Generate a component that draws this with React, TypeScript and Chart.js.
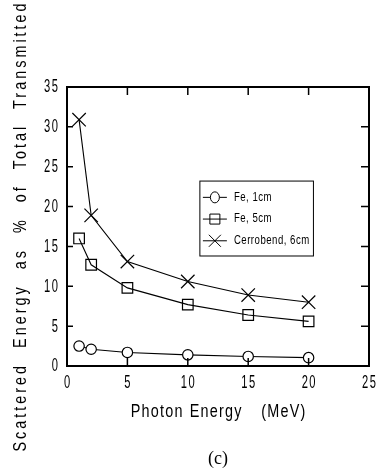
import React, { useEffect, useRef } from "react";
import { Chart, registerables } from "chart.js";

Chart.register(...registerables);

const energies = [1, 2, 5, 10, 15, 20];
const fe1cm = [2.5, 2.1, 1.7, 1.4, 1.2, 1.05];
const fe5cm = [16.0, 12.7, 9.8, 7.7, 6.4, 5.6];
const cerrobend6cm = [30.9, 18.9, 13.1, 10.6, 8.9, 8.0];
const seriesLabels = ["Fe, 1cm", "Fe, 5cm", "Cerrobend, 6cm"];
const xTickValues = [0, 5, 10, 15, 20, 25];
const yTickValues = [0, 5, 10, 15, 20, 25, 30, 35];
const xTitle = "Photon Energy   (MeV)";
const yTitle = "Scattered Energy as % of Total Transmitted";
const caption = "(c)";

const FONT = "'Liberation Sans', Arial, sans-serif";

function narrowText(
  ctx: any,
  text: string,
  x: number,
  y: number,
  opts: { size: number; sx: number; ls: number; ws?: number; align: string; rot?: number }
) {
  ctx.save();
  ctx.translate(x, y);
  if (opts.rot) ctx.rotate(opts.rot);
  ctx.scale(opts.sx, 1);
  ctx.font = `${opts.size}px ${FONT}`;
  ctx.letterSpacing = `${opts.ls / opts.sx}px`;
  ctx.wordSpacing = `${(opts.ws || 0) / opts.sx}px`;
  ctx.textAlign = opts.align;
  ctx.textBaseline = "middle";
  ctx.fillStyle = "#000";
  let dx = 0;
  if (opts.align === "right") dx = opts.ls / opts.sx;
  if (opts.align === "center") dx = opts.ls / opts.sx / 2;
  ctx.fillText(text, dx, 0);
  ctx.restore();
}

const framePlugin = {
  id: "frameTicks",
  afterDatasetsDraw(chart: any) {
    const { ctx, chartArea, scales } = chart;
    const { left, right, top, bottom } = chartArea;
    ctx.save();
    ctx.strokeStyle = "#000";
    ctx.lineWidth = 1.5;
    ctx.beginPath();
    for (const t of scales.x.ticks) {
      const v = t.value;
      const px = scales.x.getPixelForValue(v);
      if (v !== 0 && v !== 25) {
        ctx.moveTo(px, bottom);
        ctx.lineTo(px, bottom - 8);
        ctx.moveTo(px, top);
        ctx.lineTo(px, top + 8);
      }
    }
    for (const t of scales.y.ticks) {
      const v = t.value;
      const py = scales.y.getPixelForValue(v);
      if (v !== 0 && v !== 35) {
        ctx.moveTo(left, py);
        ctx.lineTo(left + 6, py);
        ctx.moveTo(right, py);
        ctx.lineTo(right - 8, py);
      }
    }
    ctx.stroke();
    ctx.lineWidth = 2;
    ctx.strokeRect(left, top, right - left, bottom - top);
    ctx.restore();
  },
  afterDraw(chart: any) {
    const { ctx, scales, chartArea } = chart;
    // tick labels
    for (const t of scales.x.ticks) {
      const px = scales.x.getPixelForValue(t.value);
      narrowText(ctx, String(t.value), px, chartArea.bottom + 17, { size: 18, sx: 0.62, ls: 1.5, align: "center" });
    }
    for (const t of scales.y.ticks) {
      const py = scales.y.getPixelForValue(t.value);
      narrowText(ctx, String(t.value), chartArea.left - 9, py + 0.5, { size: 18, sx: 0.62, ls: 1.5, align: "right" });
    }
    // axis titles
    const cx = (chartArea.left + chartArea.right) / 2;
    const cy = (chartArea.top + chartArea.bottom) / 2;
    narrowText(ctx, xTitle, cx, chartArea.bottom + 46, { size: 18, sx: 0.8, ls: 1.2, ws: 1, align: "center" });
    narrowText(ctx, yTitle, 21, cy + 1, { size: 18, sx: 0.8, ls: 3, ws: 8, align: "center", rot: -Math.PI / 2 });

    // legend
    const bx0 = scales.x.getPixelForValue(11.0);
    const bx1 = scales.x.getPixelForValue(20.4);
    const by0 = scales.y.getPixelForValue(23.2);
    const by1 = scales.y.getPixelForValue(13.8);
    ctx.save();
    ctx.fillStyle = "#fff";
    ctx.fillRect(bx0, by0, bx1 - bx0, by1 - by0);
    ctx.strokeStyle = "#000";
    ctx.lineWidth = 1;
    ctx.strokeRect(bx0, by0, bx1 - bx0, by1 - by0);
    const rowH = (by1 - by0) / 3.45;
    chart.data.datasets.forEach((ds: any, i: number) => {
      const ry = by0 + rowH * (0.75 + i);
      const mx = bx0 + 15;
      ctx.beginPath();
      ctx.moveTo(bx0 + 3, ry);
      ctx.lineTo(bx0 + 27, ry);
      ctx.lineWidth = 1;
      ctx.stroke();
      ctx.beginPath();
      if (ds.pointStyle === "circle") {
        ctx.ellipse(mx, ry, 4.5, 5.5, 0, 0, Math.PI * 2);
        ctx.fillStyle = "#fff";
        ctx.fill();
        ctx.stroke();
      } else if (ds.pointStyle === "rect") {
        ctx.rect(mx - 5, ry - 5, 10, 10);
        ctx.stroke();
      } else {
        ctx.moveTo(mx - 6, ry - 6);
        ctx.lineTo(mx + 6, ry + 6);
        ctx.moveTo(mx + 6, ry - 6);
        ctx.lineTo(mx - 6, ry + 6);
        ctx.stroke();
      }
      narrowText(ctx, ds.label, bx0 + 34, ry, { size: 12, sx: 0.8, ls: 0.5, align: "left" });
    });
    ctx.restore();
  },
};

export default function App() {
  const ref = useRef<HTMLCanvasElement>(null);
  useEffect(() => {
    if (!ref.current) return;
    const mk = (data: number[]) => energies.map((x, i) => ({ x, y: data[i] }));
    const chart = new Chart(ref.current, {
      type: "line",
      data: {
        datasets: [
          {
            label: seriesLabels[0],
            data: mk(fe1cm),
            pointStyle: "circle",
            pointRadius: 5.2,
            borderColor: "#000",
            borderWidth: 1.1,
            pointBorderWidth: 1.2,
            pointBackgroundColor: "#fff",
            pointBorderColor: "#000",
            tension: 0,
          },
          {
            label: seriesLabels[1],
            data: mk(fe5cm),
            pointStyle: "rect",
            pointRadius: 7.5,
            borderColor: "#000",
            borderWidth: 1.1,
            pointBorderWidth: 1.2,
            pointBackgroundColor: "rgba(0,0,0,0)",
            pointBorderColor: "#000",
            tension: 0,
          },
          {
            label: seriesLabels[2],
            data: mk(cerrobend6cm),
            pointStyle: "crossRot",
            pointRadius: 9.5,
            borderColor: "#000",
            borderWidth: 1.1,
            pointBorderWidth: 1.2,
            pointBorderColor: "#000",
            tension: 0,
          },
        ],
      },
      options: {
        responsive: false,
        animation: false,
        layout: { padding: { top: 87, right: 21, left: 0, bottom: 0 } },
        plugins: { legend: { display: false }, tooltip: { enabled: false } },
        scales: {
          x: {
            type: "linear",
            min: 0,
            max: 25,
            afterBuildTicks: (s: any) => {
              s.ticks = xTickValues.map((v) => ({ value: v }));
            },
            afterFit: (s: any) => {
              s.height = 475 - 366;
            },
            grid: { display: false, drawTicks: false },
            border: { display: false },
            ticks: { display: false },
            title: { display: false, text: xTitle },
          },
          y: {
            type: "linear",
            min: 0,
            max: 35,
            afterBuildTicks: (s: any) => {
              s.ticks = yTickValues.map((v) => ({ value: v }));
            },
            afterFit: (s: any) => {
              s.width = 67;
            },
            grid: { display: false, drawTicks: false },
            border: { display: false },
            ticks: { display: false },
            title: { display: false, text: yTitle },
          },
        },
      },
      plugins: [framePlugin],
    });
    return () => chart.destroy();
  }, []);
  return (
    <div style={{ position: "absolute", left: 0, top: 0, width: 390, height: 475, background: "#fff" }}>
      <canvas ref={ref} width={390} height={475} />
      <div
        style={{
          position: "absolute",
          left: 198,
          top: 447,
          width: 40,
          textAlign: "center",
          fontFamily: "'Liberation Serif', 'Times New Roman', serif",
          fontSize: 18,
          lineHeight: "22px",
        }}
      >
        {caption}
      </div>
    </div>
  );
}
